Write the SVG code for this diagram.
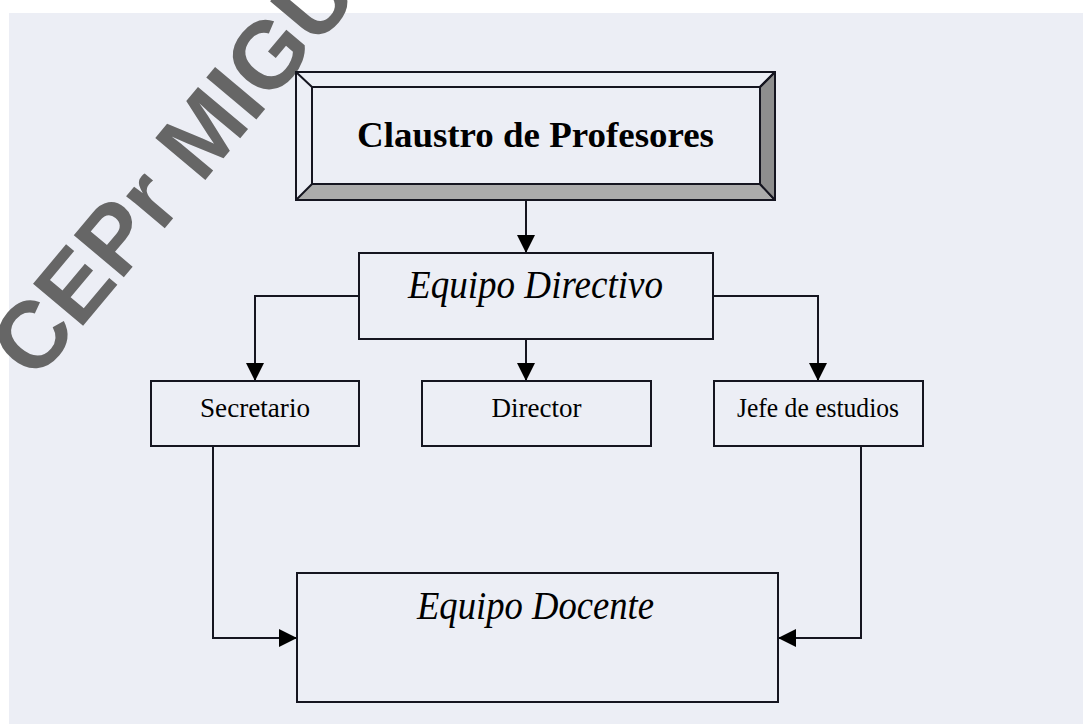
<svg xmlns="http://www.w3.org/2000/svg" width="1083" height="724" viewBox="0 0 1083 724">
  <defs>
    <style>
      .box { fill: #eceef5; stroke: #151520; stroke-width: 2; }
      .line { fill: none; stroke: #151520; stroke-width: 2; }
      .conn { fill: none; stroke: #151520; stroke-width: 2; marker-end: url(#arrow); }
      .serif { font-family: "Liberation Serif", "Times New Roman", serif; fill: #000; text-anchor: middle; }
      .wm { font-family: "Liberation Sans", Arial, sans-serif; font-weight: bold; fill: #666666; }
    </style>
    <marker id="arrow" markerUnits="userSpaceOnUse" markerWidth="18" markerHeight="18" viewBox="0 0 18 18" refX="18" refY="9" orient="auto">
      <path d="M0,0 L18,9 L0,18 Z" fill="#000"/>
    </marker>
  </defs>

  <rect x="0" y="0" width="1083" height="724" fill="#ffffff"/>
  <rect x="9" y="13" width="1074" height="711" fill="#eceef5"/>

  <text id="watermark" class="wm" font-size="95" transform="translate(35,383) rotate(-50)">CEPr MIGU</text>

  <g id="connectors">
    <path class="conn" d="M526,200 V253"/>
    <path class="conn" d="M359,296 H255 V381"/>
    <path class="conn" d="M526,339 V381"/>
    <path class="conn" d="M713,296 H818 V381"/>
    <path class="conn" d="M213,446 V638 H297"/>
    <path class="conn" d="M861,446 V638 H778"/>
  </g>

  <g id="claustro">
    <rect class="box" x="296" y="72" width="479" height="128"/>
    <polygon points="296,200 775,200 760,184 312,184" fill="#ababab" stroke="#151520" stroke-width="2" stroke-linejoin="round"/>
    <polygon points="775,72 775,200 760,184 760,87" fill="#8e8e8e" stroke="#151520" stroke-width="2" stroke-linejoin="round"/>
    <rect class="line" x="312" y="87" width="448" height="97"/>
    <path class="line" d="M296,72 L312,87 M775,72 L760,87"/>
    <text class="serif" x="535.5" y="147" font-size="36" font-weight="bold" textLength="357" lengthAdjust="spacingAndGlyphs">Claustro de Profesores</text>
  </g>

  <g id="equipo-directivo">
    <rect class="box" x="359" y="253" width="354" height="86"/>
    <text class="serif" x="535.5" y="298" font-size="39" font-style="italic" textLength="255" lengthAdjust="spacingAndGlyphs">Equipo Directivo</text>
  </g>

  <g id="secretario">
    <rect class="box" x="151" y="381" width="208" height="65"/>
    <text class="serif" x="255" y="417" font-size="28" textLength="110" lengthAdjust="spacingAndGlyphs">Secretario</text>
  </g>

  <g id="director">
    <rect class="box" x="422" y="381" width="229" height="65"/>
    <text class="serif" x="536.5" y="417" font-size="28" textLength="90" lengthAdjust="spacingAndGlyphs">Director</text>
  </g>

  <g id="jefe-estudios">
    <rect class="box" x="714" y="381" width="209" height="65"/>
    <text class="serif" x="818" y="417" font-size="28" textLength="162" lengthAdjust="spacingAndGlyphs">Jefe de estudios</text>
  </g>

  <g id="equipo-docente">
    <rect class="box" x="297" y="573" width="481" height="129"/>
    <text class="serif" x="535.5" y="619" font-size="39" font-style="italic" textLength="237" lengthAdjust="spacingAndGlyphs">Equipo Docente</text>
  </g>
</svg>
